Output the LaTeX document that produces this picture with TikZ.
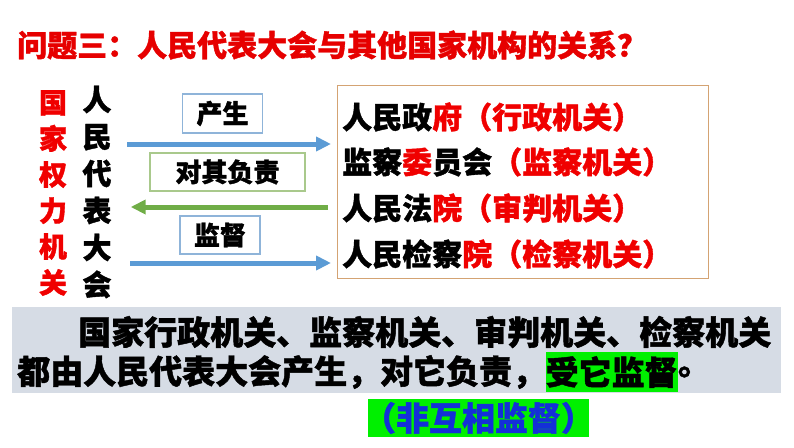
\documentclass[tikz,border=0pt]{standalone}
\usepackage{fontspec}
\setmainfont{Noto Sans CJK SC}[BoldFeatures={FakeBold=1.3}]
\usetikzlibrary{arrows.meta}
\definecolor{redc}{HTML}{F00000}
\definecolor{titlered}{HTML}{E60000}
\definecolor{arrblue}{HTML}{5B9BD5}
\definecolor{arrgreen}{HTML}{70AD47}
\definecolor{boxblue}{HTML}{8FB4D9}
\definecolor{boxgreen}{HTML}{A9C98C}
\definecolor{orgedge}{HTML}{D4A373}
\definecolor{graybg}{HTML}{D6DCE5}
\definecolor{hlgreen}{HTML}{00F000}
\definecolor{bluetext}{HTML}{1430D8}
\newcommand\myfs[2]{\fontsize{#1}{#2}\selectfont\bfseries}
\tikzset{
  lbl/.style={draw=#1, line width=1.2pt, inner sep=0pt, font=\myfs{26}{26}},
  flow/.style={line width=5pt, draw=#1, -{Triangle[length=15pt,width=14pt]}},
  orgline/.style={anchor=west, inner sep=0pt, font=\myfs{30}{30}},
  para/.style={anchor=west, inner sep=0pt, font=\myfs{33}{33}},
}
\begin{document}
\begin{tikzpicture}[x=1pt,y=-1pt]
\useasboundingbox (0,0) rectangle (794,447);
% title
\node (title) [anchor=west, inner sep=0pt, text=titlered, font=\myfs{30}{30}] at (17,45) {问题三：人民代表大会与其他国家机构的关系？};
% left columns
\node (gjql) [align=center, inner sep=0pt, text=redc, font=\myfs{28}{36}] at (53,193) {国\\家\\权\\力\\机\\关};
\node (rd) [align=center, inner sep=0pt, font=\myfs{29}{37}] at (97,192) {人\\民\\代\\表\\大\\会};
% organ box
\node (org) [draw=orgedge, line width=1.2pt, minimum width=371pt, minimum height=193pt, anchor=north west, inner sep=0pt] at (337,85) {};
\node (o1) [orgline] at (342,117) {人民政\textcolor{redc}{府（行政机关）}};
\node (o2) [orgline] at (342,162) {监察\textcolor{redc}{委}员会\textcolor{redc}{（监察机关）}};
\node (o3) [orgline] at (342,208) {人民法\textcolor{redc}{院（审判机关）}};
\node (o4) [orgline] at (342,254) {人民检察\textcolor{redc}{院（检察机关）}};
% labels
\node (cs) [lbl=boxblue, minimum width=80pt, minimum height=39pt] at (222.5,113.5) {产生};
\node (fz) [lbl=boxgreen, minimum width=155pt, minimum height=38pt] at (227.5,172) {对其负责};
\node (jd) [lbl=boxblue, minimum width=80pt, minimum height=38pt] at (220,235) {监督};
% arrows
\coordinate (a1) at (127,144);
\coordinate (a2) at (328,207);
\coordinate (a3) at (130,263);
\draw[flow=arrblue] (a1) -- (a1 -| org.west) [shorten >=6pt];
\draw[flow=arrgreen] (a2) -- (a2 -| rd.east) [shorten >=19pt];
\draw[flow=arrblue] (a3) -- (a3 -| org.west) [shorten >=6pt];
% bottom paragraph
\node (gray) [fill=graybg, minimum width=769pt, minimum height=86pt, anchor=north west, inner sep=0pt] at (12,307) {};
\node (p1) [para] at (78,332) {国家行政机关、监察机关、审判机关、检察机关};
\node (p2a) [para] at (17,372) {都由人民代表大会产生，对它负责，};
\node (p2b) [para, fill=hlgreen, minimum height=40pt] at (p2a.east) {受它监督};
\node (p2c) [para] at (p2b.east) {。};
\node (note) [fill=hlgreen, minimum width=221pt, minimum height=38pt, inner sep=0pt, text=bluetext, font=\myfs{33}{33}] at (478.5,418) {\makebox[0pt][c]{（非互相监督）}};
\end{tikzpicture}
\end{document}
